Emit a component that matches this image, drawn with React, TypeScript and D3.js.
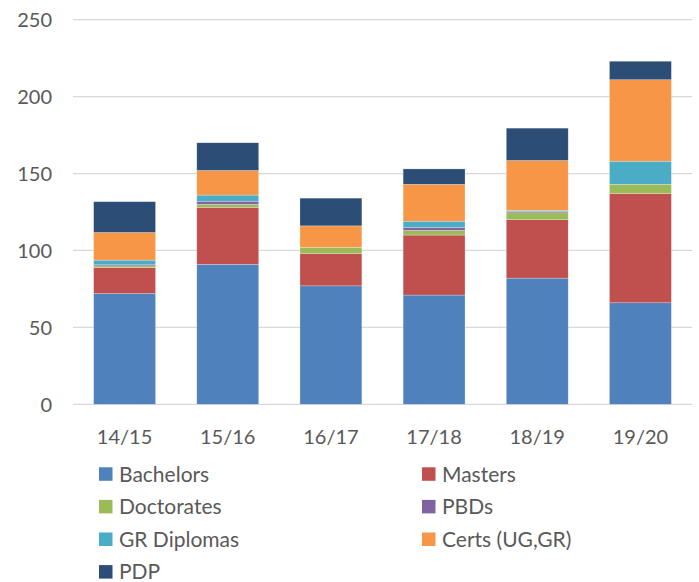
import React, { useEffect, useRef } from "react";
import * as d3 from "d3";

const years = ["14/15", "15/16", "16/17", "17/18", "18/19", "19/20"];
const seriesNames = [
  "Bachelors",
  "Masters",
  "Doctorates",
  "PBDs",
  "GR Diplomas",
  "Certs (UG,GR)",
  "PDP",
];
const seriesColors = [
  "#4F81BD",
  "#C0504D",
  "#9BBB59",
  "#8064A2",
  "#4BACC6",
  "#F79646",
  "#2C4D75",
];

const bachelors = [72, 91, 77, 71, 82, 66];
const masters = [17, 37, 21, 39, 38, 71];
const doctorates = [1, 2, 4, 3, 4.5, 6];
const pbds = [0.7, 2, 0, 2, 0.7, 0];
const grDiplomas = [3, 4, 0, 4, 0.8, 15];
const certs = [18, 16, 14, 24, 32.5, 53];
const pdp = [20, 18, 18, 10, 21, 12];

const yTicks = [0, 50, 100, 150, 200, 250];

const App = () => {
  const chart = useRef<SVGSVGElement>(null);

  useEffect(() => {
    const width = 699;
    const height = 582;
    const font = "Lato, 'Open Sans', sans-serif";
    const textColor = "#595959";

    const values = [bachelors, masters, doctorates, pbds, grDiplomas, certs, pdp];
    const table = years.map((yr, i) => {
      const row: any = { year: yr };
      seriesNames.forEach((s, k) => (row[s] = values[k][i]));
      return row;
    });

    const x = d3
      .scaleBand()
      .domain(years)
      .range([73, 692])
      .paddingInner(0.4)
      .paddingOuter(0.2);

    const y = d3.scaleLinear().domain([0, 250]).range([404.3, 19.7]);

    const color = d3.scaleOrdinal<string>().domain(seriesNames).range(seriesColors);

    const stacked = d3.stack().keys(seriesNames)(table);

    const svg = d3.select(chart.current).attr("width", width).attr("height", height);
    svg.selectAll("*").remove();

    // gridlines
    svg
      .append("g")
      .selectAll("line")
      .data(yTicks)
      .join("line")
      .attr("x1", 73)
      .attr("x2", 692)
      .attr("y1", (d) => y(d))
      .attr("y2", (d) => y(d))
      .attr("stroke", "#D9D9D9")
      .attr("stroke-width", 1.3);

    // y tick labels
    svg
      .append("g")
      .selectAll("text")
      .data(yTicks)
      .join("text")
      .attr("x", 52)
      .attr("y", (d) => y(d))
      .attr("dy", "0.36em")
      .attr("text-anchor", "end")
      .attr("font-family", font)
      .attr("font-size", 20)
      .attr("fill", textColor)
      .text((d) => d);

    // bars
    svg
      .append("g")
      .selectAll("g")
      .data(stacked)
      .join("g")
      .attr("fill", (d) => color(d.key))
      .selectAll("rect")
      .data((d) => d)
      .join("rect")
      .attr("x", (d: any) => x(d.data.year)!)
      .attr("y", (d) => y(d[1]))
      .attr("width", x.bandwidth())
      .attr("height", (d) => y(d[0]) - y(d[1]))
      .attr("stroke", "#ffffff")
      .attr("stroke-opacity", 0.4)
      .attr("stroke-width", 0.6);

    // x labels
    svg
      .append("g")
      .selectAll("text")
      .data(years)
      .join("text")
      .attr("x", (d) => x(d)! + x.bandwidth() / 2)
      .attr("y", 444)
      .attr("text-anchor", "middle")
      .attr("font-family", font)
      .attr("font-size", 20)
      .attr("fill", textColor)
      .text((d) => d);

    // legend, two columns
    const legend = svg
      .append("g")
      .selectAll("g")
      .data(seriesNames)
      .join("g")
      .attr("transform", (d, i) => {
        const col = i % 2;
        const row = Math.floor(i / 2);
        return `translate(${col === 0 ? 99 : 422}, ${474 + row * 32.6})`;
      });

    legend
      .append("rect")
      .attr("x", 0)
      .attr("y", -6.7)
      .attr("width", 13.5)
      .attr("height", 13.5)
      .attr("fill", (d) => color(d));

    legend
      .append("text")
      .attr("x", 20)
      .attr("y", 0)
      .attr("dy", "0.36em")
      .attr("font-family", font)
      .attr("font-size", 21)
      .attr("fill", textColor)
      .text((d) => d);
  }, []);

  return (
    <div style={{ position: "absolute", left: 0, top: 0 }}>
      <svg ref={chart} style={{ display: "block", background: "#fff" }}></svg>
    </div>
  );
};

export default App;
